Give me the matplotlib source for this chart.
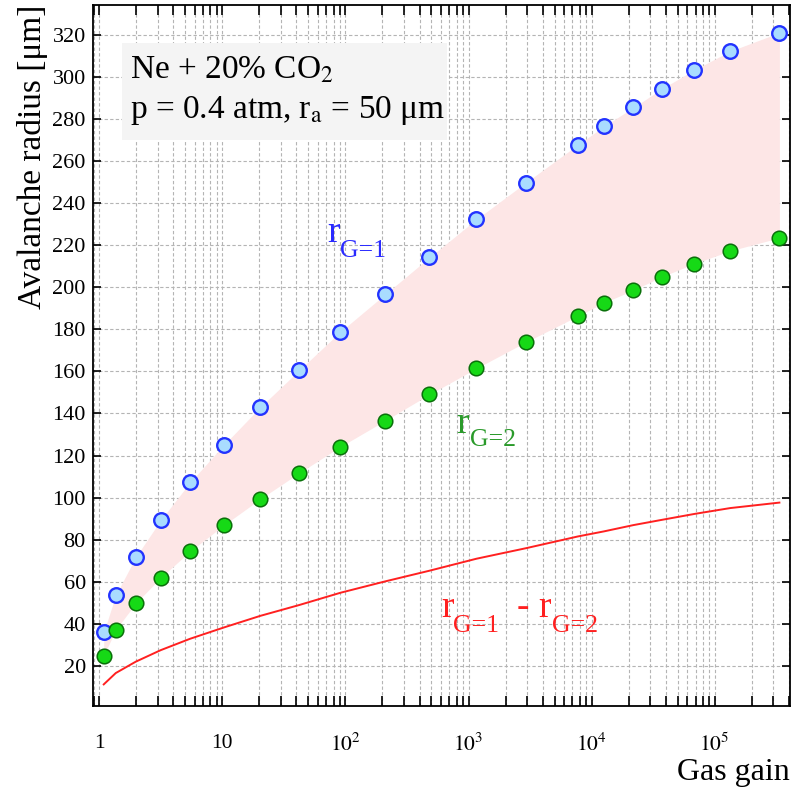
import numpy as np
import matplotlib
matplotlib.use('Agg')
import matplotlib.pyplot as plt
from matplotlib.patches import Rectangle
from matplotlib.ticker import FixedLocator, LogLocator, NullFormatter

plt.rcParams['font.family'] = ['Liberation Serif', 'DejaVu Serif']
plt.rcParams['mathtext.fontset'] = 'stix'

# avalanche radius vs gas gain, Ne + 20% CO2 at 0.4 atm
gain   = [1.086, 1.36, 1.976, 3.156, 5.46, 10.3, 20.3, 42.3, 91, 210,
          482, 1161, 2930, 7750, 12600, 21900, 37300, 68400, 134000, 336000]
r_g1   = [35.9, 53.6, 71.6, 89.3, 107.2, 125.1, 143.0, 160.7, 178.9, 196.7,
          214.3, 232.4, 249.9, 267.9, 276.6, 285.6, 294.5, 303.5, 312.4, 321.2]
r_g2   = [24.8, 37.1, 49.7, 61.9, 74.4, 86.9, 99.3, 111.8, 124.2, 136.6,
          149.1, 161.5, 174.0, 186.4, 192.7, 198.7, 205.1, 211.3, 217.4, 223.6]
x_major = [1, 10, 1e2, 1e3, 1e4, 1e5]
x_labels = ['1', '10', '$10^{2}$', '$10^{3}$', '$10^{4}$', '$10^{5}$']
y_ticks = list(range(20, 321, 20))

gain = np.array(gain)
r_g1 = np.array(r_g1)
r_g2 = np.array(r_g2)

BLUE  = '#2a2aff'
GREEN = '#2a9a2a'
RED   = '#ff2020'

fig = plt.figure(figsize=(7.96, 7.88), dpi=100)
ax = fig.add_axes([0.1165, 0.104, 0.876, 0.8895])

ax.fill_between(gain, r_g2, r_g1, color='#fde6e6', lw=0, zorder=1)
ax.plot(gain, r_g1 - r_g2, color=RED, lw=1.4, zorder=3)
ax.plot(gain, r_g1, 'o', ms=10.5, mfc='#a9dcff', mec='#2233ff', mew=1.7, zorder=4)
ax.plot(gain, r_g2, 'o', ms=10.5, mfc='#16d916', mec='#0a700a', mew=1.1, zorder=4)

ax.set_xscale('log')
ax.set_xlim(0.884, 4.1e5)
ax.set_ylim(0.8, 334.3)

ax.xaxis.set_major_locator(FixedLocator(x_major))
ax.set_xticklabels(x_labels)
ax.xaxis.set_minor_locator(LogLocator(base=10, subs=np.arange(2, 10), numticks=20))
ax.xaxis.set_minor_formatter(NullFormatter())
ax.set_yticks(y_ticks)

ax.tick_params(axis='both', which='both', direction='in', top=True, right=True,
               width=1.2, color='black')
ax.tick_params(axis='x', which='both', length=7, pad=20, labelsize=15.5)
ax.tick_params(axis='y', which='major', length=6, pad=5, labelsize=16)
for s in ax.spines.values():
    s.set_linewidth(1.3)

grid_kw = dict(color='#b4b4b4', lw=0.8, linestyle=(0, (3, 2)))
ax.grid(True, which='major', axis='both', **grid_kw)
ax.grid(True, which='minor', axis='x', **grid_kw)
ax.set_axisbelow(True)

ax.set_xlabel('Gas gain', fontsize=23, loc='right', labelpad=1)
ax.set_ylabel('Avalanche radius [μm]', fontsize=24, loc='top', labelpad=3)

# gas / geometry box
ax.add_patch(Rectangle((0.042, 0.807), 0.466, 0.139, transform=ax.transAxes,
                       fc='#f4f4f4', ec='none', zorder=2))
ax.text(0.0535, 0.896, 'Ne + 20% CO$_2$', transform=ax.transAxes,
        fontsize=24, va='baseline', ha='left', zorder=3)
ax.text(0.0535, 0.839, 'p = 0.4 atm, r$_\\mathrm{a}$ = 50 μm',
        transform=ax.transAxes, fontsize=24, va='baseline', ha='left', zorder=3)


def label(x, y, pieces):
    # pieces: (dx, dy, text, size) in axes coords relative to (x, y)
    for dx, dy, s, size in pieces:
        ax.text(x + dx, y + dy, s[0], transform=ax.transAxes, fontsize=size,
                color=s[1], va='baseline', ha='left', zorder=5)


label(0.336, 0.662, [(0, 0, ('r', BLUE), 27),
                     (0.0187, -0.0215, ('G=1', BLUE), 18.5)])
label(0.522, 0.390, [(0, 0, ('r', GREEN), 27),
                     (0.0191, -0.0187, ('G=2', GREEN), 18.5)])
label(0.5005, 0.1274, [(0, 0, ('r', RED), 27),
                       (0.0162, -0.0214, ('G=1', RED), 18.5),
                       (0.1075, 0, ('-', RED), 27),
                       (0.1381, 0, ('r', RED), 27),
                       (0.1578, -0.0214, ('G=2', RED), 18.5)])

fig.savefig('out.png', dpi=100)
